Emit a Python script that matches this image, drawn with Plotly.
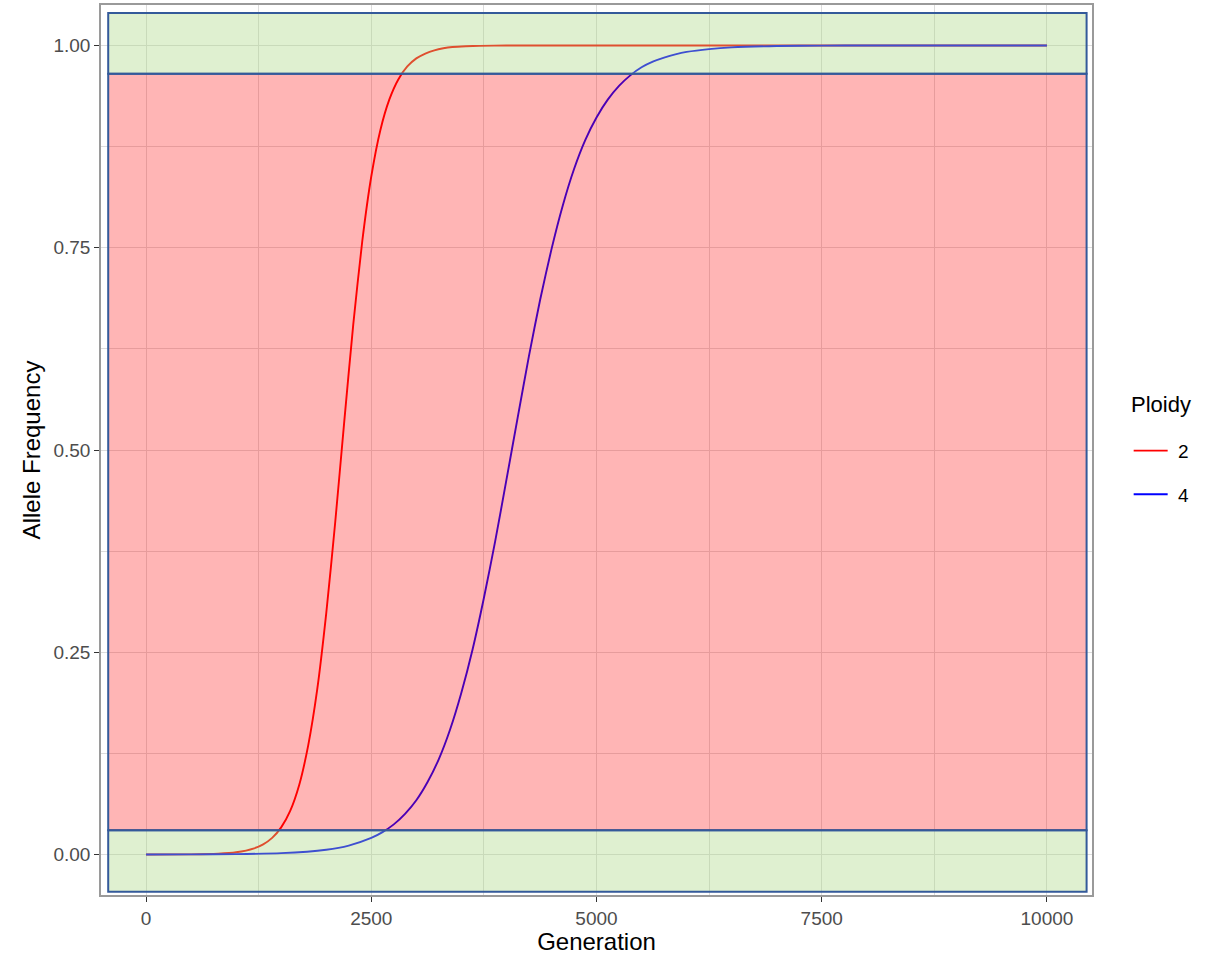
import plotly.graph_objects as go

# ---- data ----
gen_p2 = [0, 500, 800, 1000, 1200, 1300, 1400, 1500, 1600, 1700, 1800, 1900, 2000,
          2100, 2200, 2300, 2400, 2500, 2600, 2700, 2800, 2900, 3000, 3100, 3200,
          3300, 3400, 3550, 3700, 4000, 5000, 7500, 10000]
freq_p2 = [0.0, 0.0002, 0.001, 0.0028, 0.0077, 0.0126, 0.0206, 0.0336, 0.054, 0.086,
           0.135, 0.204, 0.298, 0.411, 0.535, 0.655, 0.758, 0.838, 0.895, 0.933,
           0.958, 0.974, 0.984, 0.990, 0.994, 0.9965, 0.998, 0.999, 0.9995, 0.9999,
           1.0, 1.0, 1.0]

gen_p4 = [0, 500, 1000, 1500, 2000, 2250, 2500, 2625, 2750, 2875, 3000, 3125, 3250,
          3375, 3500, 3625, 3750, 3875, 4000, 4125, 4250, 4375, 4500, 4625, 4750,
          4875, 5000, 5125, 5250, 5375, 5500, 5625, 5750, 5875, 6000, 6250, 6500,
          7000, 7500, 8000, 9000, 10000]
freq_p4 = [0.0, 0.00015, 0.0005, 0.0017, 0.006, 0.0111, 0.0205, 0.0277, 0.0373,
           0.0503, 0.0671, 0.0896, 0.118, 0.1546, 0.200, 0.2537, 0.317, 0.387,
           0.463, 0.540, 0.616, 0.686, 0.748, 0.802, 0.847, 0.883, 0.911, 0.933,
           0.950, 0.963, 0.973, 0.980, 0.985, 0.989, 0.992, 0.9955, 0.9976, 0.9993,
           0.9998, 0.99995, 1.0, 1.0]

ploidy_labels = ["2", "4"]
legend_title = "Ploidy"

# shaded bands (frequency thresholds)
band_x_min = -420
band_x_max = 10440
band_lower = [-0.046, 0.03, 0.965]
band_upper = [0.03, 0.965, 1.04]
band_kind = ["fixed", "segregating", "fixed"]

x_ticks = [0, 2500, 5000, 7500, 10000]
y_ticks = [0.0, 0.25, 0.5, 0.75, 1.0]

# ---- styles ----
line_colors = {"2": "#ff0000", "4": "#0000ff"}
band_fill = {"fixed": "rgba(168,214,128,0.37)", "segregating": "rgba(255,0,0,0.29)"}
band_edge = "#345a9a"
FONT = "Liberation Sans, Arial, Helvetica, sans-serif"
PAD = "\u00a0"

fig = go.Figure()
for lab, gx, fy in zip(ploidy_labels, [gen_p2, gen_p4], [freq_p2, freq_p4]):
    fig.add_trace(go.Scatter(
        x=gx, y=fy, mode="lines", name=PAD + lab, legendgroup=lab,
        line=dict(color=line_colors[lab], width=1.9, shape="spline", smoothing=0.6),
    ))

for lo, hi, kind in zip(band_lower, band_upper, band_kind):
    fig.add_shape(type="rect", xref="x", yref="y",
                  x0=band_x_min, x1=band_x_max, y0=lo, y1=hi,
                  fillcolor=band_fill[kind],
                  line=dict(color=band_edge, width=2), layer="above")

grid_major = "#dcdcdc"
fig.update_xaxes(
    range=[-500, 10500], tickvals=x_ticks, ticktext=[str(v) for v in x_ticks],
    ticks="outside", ticklen=5, tickcolor="#333333", tickwidth=1.2,
    tickfont=dict(family=FONT, size=19, color="#4d4d4d"),
    showgrid=True, gridcolor=grid_major, gridwidth=1.3,
    minor=dict(showgrid=True, gridcolor=grid_major, gridwidth=0.9, dtick=1250, tick0=0),
    showline=True, mirror=True, linecolor="#9a9a9a", linewidth=1.5,
    zeroline=False, automargin=False,
    title=dict(text="Generation", font=dict(family=FONT, size=24, color="#000000"), standoff=6),
)
fig.update_yaxes(
    range=[-0.05, 1.05], tickvals=y_ticks, tickformat=".2f",
    ticks="outside", ticklen=5, tickcolor="#333333", tickwidth=1.2,
    tickfont=dict(family=FONT, size=19, color="#4d4d4d"),
    showgrid=True, gridcolor=grid_major, gridwidth=1.3,
    minor=dict(showgrid=True, gridcolor=grid_major, gridwidth=0.9, dtick=0.125, tick0=0),
    showline=True, mirror=True, linecolor="#9a9a9a", linewidth=1.5,
    zeroline=False, automargin=False,
    title=dict(text="Allele Frequency", font=dict(family=FONT, size=24, color="#000000"), standoff=6),
)

fig.add_annotation(
    text=legend_title, xref="paper", yref="paper", x=1.0375, y=0.5506,
    xanchor="left", yanchor="middle", showarrow=False,
    font=dict(family=FONT, size=22, color="#000000"),
)

fig.update_layout(
    width=1217, height=955,
    margin=dict(l=101, r=125, t=5, b=60, autoexpand=False),
    paper_bgcolor="white", plot_bgcolor="white",
    font=dict(family=FONT),
    legend=dict(
        font=dict(family=FONT, size=19, color="#000000"),
        x=1.037, xanchor="left", y=0.5205, yanchor="top",
        tracegroupgap=16, itemwidth=34, bgcolor="rgba(0,0,0,0)",
    ),
    showlegend=True,
)

fig.write_html("out.html", config={"displayModeBar": False},
               post_script="document.body.style.margin='0px';")
